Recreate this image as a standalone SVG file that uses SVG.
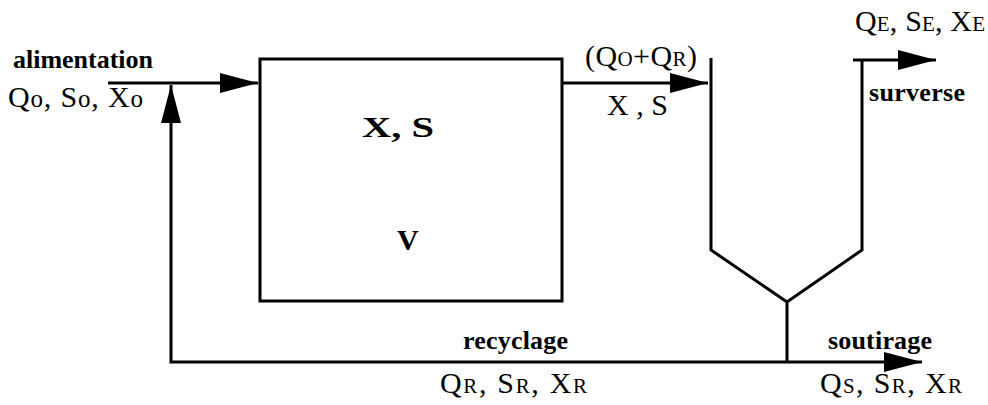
<svg xmlns="http://www.w3.org/2000/svg" width="988" height="405" viewBox="0 0 988 405">
<style>
.ln{fill:none;stroke:#000;stroke-width:3}
.b{font-family:"Liberation Serif","Times New Roman",serif;font-weight:bold;font-size:26px;fill:#000}
.r{font-family:"Liberation Serif","Times New Roman",serif;font-size:30px;fill:#000}
.s{font-size:21px}
.o{font-size:25px}
.big{font-size:30px}
</style>
<defs>
<marker id="ah" viewBox="0 0 38 20" refX="38" refY="10" markerWidth="38" markerHeight="20" markerUnits="userSpaceOnUse" orient="auto">
<path d="M0,0 L38,10 L0,20 z" fill="#000"/>
</marker>
</defs>
<rect width="988" height="405" fill="#fff"/>
<g id="connectors">
<path class="ln" d="M108,83 H258" marker-end="url(#ah)"/>
<path class="ln" d="M562,83 H708" marker-end="url(#ah)"/>
<path class="ln" d="M787,362 H171 V85" marker-end="url(#ah)"/>
<path class="ln" d="M787,362 H922" marker-end="url(#ah)"/>
<path class="ln" d="M787,302 V362"/>
<path class="ln" d="M853,60 H936" marker-end="url(#ah)"/>
</g>
<g id="reactor">
<rect class="ln" x="260" y="59" width="302" height="242"/>
<text class="b big" x="362" y="137" textLength="72" lengthAdjust="spacingAndGlyphs">X, S</text>
<text class="b big" x="397" y="250">V</text>
</g>
<g id="clarifier">
<path class="ln" d="M711,58 V250 L787,302 L862,250 V60"/>
</g>
<g id="labels">
<text class="b" x="13" y="68" textLength="140">alimentation</text>
<text class="r" x="8" y="107" textLength="135">Q<tspan class="o">o</tspan>, S<tspan class="o">o</tspan>, X<tspan class="o">o</tspan></text>
<text class="r" x="585" y="66" textLength="112">(Q<tspan class="s">O</tspan>+Q<tspan class="s">R</tspan>)</text>
<text class="r" x="607" y="115" textLength="61">X , S</text>
<text class="r" x="855" y="31" textLength="130">Q<tspan class="s">E</tspan>, S<tspan class="s">E</tspan>, X<tspan class="s">E</tspan></text>
<text class="b" x="869" y="101" textLength="96">surverse</text>
<text class="b" x="463" y="349" textLength="105">recyclage</text>
<text class="r" x="440" y="393" textLength="147">Q<tspan class="s">R</tspan>, S<tspan class="s">R</tspan>, X<tspan class="s">R</tspan></text>
<text class="b" x="828" y="349" textLength="104">soutirage</text>
<text class="r" x="820" y="393" textLength="142">Q<tspan class="s">S</tspan>, S<tspan class="s">R</tspan>, X<tspan class="s">R</tspan></text>
</g>
</svg>
